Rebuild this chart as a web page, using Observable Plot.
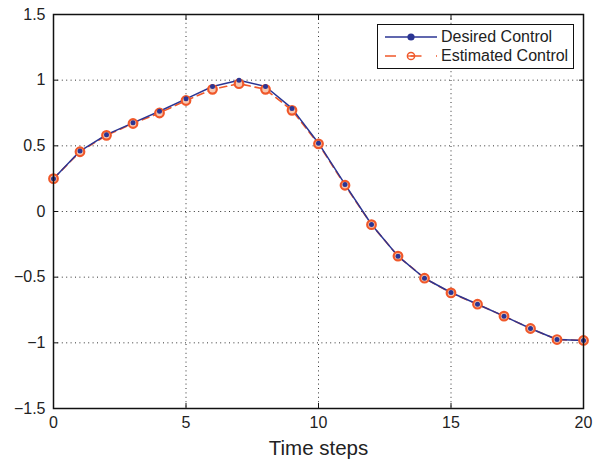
<!DOCTYPE html>
<html>
<head>
<meta charset="utf-8">
<script src="https://cdn.jsdelivr.net/npm/d3@7"></script>
<script src="https://cdn.jsdelivr.net/npm/@observablehq/plot@0.6"></script>
<style>
  body { margin: 0; background: #fff; }
  #wrap { position: relative; width: 607px; height: 466px; font-family: "Liberation Sans", Arial, sans-serif; }
  #legend { position: absolute; left: 377px; top: 24px; width: 195px; height: 43px; border: 1.3px solid #111; background: #fff; font-size: 16px; color: #222; }
  .row { position: absolute; left: 0; height: 19px; display: flex; align-items: center; }
  .row span { margin-left: 4px; }
</style>
</head>
<body>
<div id="wrap"></div>
<script>
const timeSteps = d3.range(0, 21);
const desired = [0.25, 0.46, 0.585, 0.675, 0.763, 0.858, 0.952, 1.0, 0.952, 0.785, 0.52, 0.206, -0.099, -0.34, -0.508, -0.617, -0.706, -0.797, -0.891, -0.975, -0.982];
const estimated = [0.25, 0.455, 0.58, 0.67, 0.75, 0.845, 0.93, 0.973, 0.93, 0.77, 0.515, 0.2, -0.1, -0.34, -0.508, -0.62, -0.706, -0.797, -0.891, -0.975, -0.982];
const xTicks = [0, 5, 10, 15, 20];
const yTicks = [-1.5, -1, -0.5, 0, 0.5, 1, 1.5];
const seriesNames = ["Desired Control", "Estimated Control"];
const colors = ["#2b3593", "#f0582a"];

const dData = timeSteps.map((t, i) => ({t, v: desired[i]}));
const eData = timeSteps.map((t, i) => ({t, v: estimated[i]}));

const fmt = d => (d < 0 ? "\u2212" : "") + Math.abs(d).toString();
const none = () => "";

const chart = Plot.plot({
  width: 607,
  height: 466,
  marginLeft: 53,
  marginRight: 24,
  marginTop: 14,
  marginBottom: 58,
  style: {fontFamily: "'Liberation Sans', Arial, sans-serif", fontSize: "16px", color: "#222", background: "#fff"},
  x: {domain: [0, 20], ticks: xTicks},
  y: {domain: [-1.5, 1.5], ticks: yTicks},
  marks: [
    Plot.ruleX(xTicks.slice(1, -1), {stroke: "#333", strokeWidth: 1, strokeDasharray: "1,3.4"}),
    Plot.ruleY(yTicks.slice(1, -1), {stroke: "#333", strokeWidth: 1, strokeDasharray: "1,3.4"}),
    Plot.axisX({anchor: "bottom", ticks: xTicks, tickSize: -5, tickPadding: 13, label: null, tickFormat: fmt, fontSize: 16, stroke: "#111", strokeWidth: 1}),
    Plot.axisX({anchor: "top", ticks: xTicks, tickSize: -5, tickFormat: none, label: null, stroke: "#111"}),
    Plot.axisY({anchor: "left", ticks: yTicks, tickSize: -5, tickPadding: 13, label: null, tickFormat: fmt, fontSize: 16, stroke: "#111"}),
    Plot.axisY({anchor: "right", ticks: yTicks, tickSize: -5, tickFormat: none, label: null, stroke: "#111"}),
    Plot.line(eData, {x: "t", y: "v", stroke: colors[1], strokeWidth: 1.6, strokeDasharray: "7,5"}),
    Plot.line(dData, {x: "t", y: "v", stroke: colors[0], strokeWidth: 1.5}),
    Plot.dot(eData, {x: "t", y: "v", r: 4.3, stroke: colors[1], strokeWidth: 2.2, fill: "#f7c7b0"}),
    Plot.dot(dData, {x: "t", y: "v", r: 2.5, fill: colors[0], stroke: "none"}),
    Plot.frame({stroke: "#111", strokeWidth: 1.5}),
    Plot.text(["Time steps"], {frameAnchor: "bottom", dy: 46, fontSize: 20.5, fill: "#222"})
  ]
});

const wrap = document.getElementById("wrap");
wrap.appendChild(chart);

const legend = document.createElement("div");
legend.id = "legend";
const symbols = [
  `<svg width="59" height="14"><line x1="7" y1="7" x2="59" y2="7" stroke="${colors[0]}" stroke-width="1.5"/><circle cx="33" cy="7" r="3.6" fill="${colors[0]}"/></svg>`,
  `<svg width="59" height="14"><line x1="7" y1="7" x2="59" y2="7" stroke="${colors[1]}" stroke-width="1.6" stroke-dasharray="11,14.5"/><circle cx="33" cy="7" r="3.6" fill="none" stroke="${colors[1]}" stroke-width="1.5"/><line x1="30" y1="7" x2="36" y2="7" stroke="${colors[1]}" stroke-width="1.3"/></svg>`
];
seriesNames.forEach((name, i) => {
  const row = document.createElement("div");
  row.className = "row";
  row.style.top = (2 + i * 19) + "px";
  row.innerHTML = symbols[i] + `<span>${name}</span>`;
  legend.appendChild(row);
});
wrap.appendChild(legend);
</script>
</body>
</html>
